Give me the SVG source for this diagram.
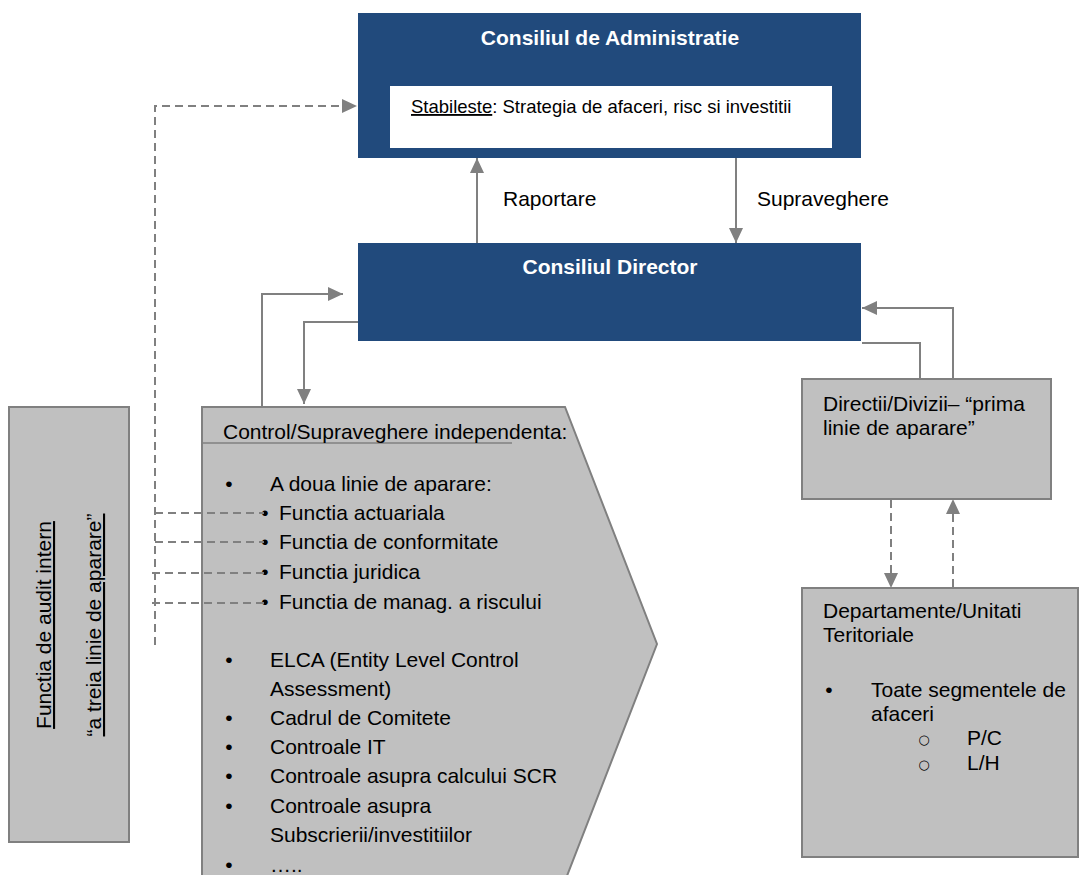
<svg xmlns="http://www.w3.org/2000/svg" width="1080" height="875" viewBox="0 0 1080 875">
<defs>
<style>
text{font-family:"Liberation Sans",Arial,sans-serif;font-size:21px;fill:#000}
.title{font-weight:bold;fill:#fff;text-anchor:middle}
.blue{fill:#214A7C}
.gray{fill:#C0C0C0;stroke:#808080;stroke-width:2}
.con{fill:none;stroke:#808080;stroke-width:2}
.dash{fill:none;stroke:#808080;stroke-width:2;stroke-dasharray:8 5}
.u{text-decoration:underline}
.b{text-anchor:middle}
.o{font-family:"DejaVu Sans",sans-serif;font-size:13px}
</style>
<marker id="ah" markerUnits="userSpaceOnUse" markerWidth="16" markerHeight="14" refX="15" refY="7" orient="auto">
<path d="M0,0 L15,7 L0,14 z" fill="#808080"/>
</marker>
</defs>
<rect width="1080" height="875" fill="#fff"/>

<g id="consiliul-administratie">
<rect class="blue" x="358" y="13" width="503" height="145"/>
<text class="title" x="610" y="45">Consiliul de Administratie</text>
<rect x="390" y="86" width="442" height="62" fill="#fff"/>
<text x="411" y="113" style="font-size:18.5px"><tspan class="u">Stabileste</tspan>: Strategia de afaceri, risc si investitii</text>
</g>

<g id="labels">
<text x="503" y="206">Raportare</text>
<text x="757" y="206">Supraveghere</text>
</g>

<g id="consiliul-director">
<rect class="blue" x="358" y="243" width="503" height="98"/>
<text class="title" x="610" y="274">Consiliul Director</text>
</g>

<g id="audit-intern">
<rect class="gray" x="9" y="407" width="120" height="435"/>
<text class="u b" transform="translate(51,625) rotate(-90)">Functia de audit intern</text>
<text class="u b" transform="translate(101,625) rotate(-90)">“a treia linie de aparare”</text>
</g>

<g id="control-supraveghere">
<polygon class="gray" points="202,407 565,407 657,644 565,881 202,881"/>
<line x1="202" y1="443" x2="512" y2="443" stroke="#808080" stroke-width="1.5"/>
<text x="223" y="439">Control/Supraveghere independenta:</text>
<text class="b" x="229" y="491">•</text><text x="270" y="491">A doua linie de aparare:</text>
<text class="b" x="265" y="520">•</text><text x="279" y="520">Functia actuariala</text>
<text class="b" x="265" y="549">•</text><text x="279" y="549">Functia de conformitate</text>
<text class="b" x="265" y="579">•</text><text x="279" y="579">Functia juridica</text>
<text class="b" x="265" y="609">•</text><text x="279" y="609">Functia de manag. a riscului</text>
<text class="b" x="229" y="667">•</text><text x="270" y="667">ELCA (Entity Level Control</text>
<text x="270" y="696">Assessment)</text>
<text class="b" x="229" y="725">•</text><text x="270" y="725">Cadrul de Comitete</text>
<text class="b" x="229" y="754">•</text><text x="270" y="754">Controale IT</text>
<text class="b" x="229" y="783">•</text><text x="270" y="783">Controale asupra calcului SCR</text>
<text class="b" x="229" y="813">•</text><text x="270" y="813">Controale asupra</text>
<text x="270" y="842">Subscrierii/investitiilor</text>
<text class="b" x="229" y="872">•</text><text x="270" y="872">…..</text>
</g>

<g id="directii">
<rect class="gray" x="802" y="379" width="249" height="120"/>
<text x="823" y="411">Directii/Divizii– “prima</text>
<text x="823" y="435">linie de aparare”</text>
</g>

<g id="departamente">
<rect class="gray" x="802" y="588" width="276" height="269"/>
<text x="823" y="618">Departamente/Unitati</text>
<text x="823" y="642">Teritoriale</text>
<text class="b" x="829" y="697">•</text><text x="871" y="697">Toate segmentele de</text>
<text x="871" y="721">afaceri</text>
<text class="o b" x="924" y="744">○</text><text x="967" y="745">P/C</text>
<text class="o b" x="924" y="769">○</text><text x="967" y="770">L/H</text>
</g>

<g id="connectors">
<line class="con" x1="477" y1="243" x2="477" y2="158" marker-end="url(#ah)"/>
<line class="con" x1="736" y1="158" x2="736" y2="243" marker-end="url(#ah)"/>
<polyline class="con" points="262,406 262,294 343,294" marker-end="url(#ah)"/>
<polyline class="con" points="358,322 304,322 304,404" marker-end="url(#ah)"/>
<polyline class="con" points="953,378 953,308 862,308" marker-end="url(#ah)"/>
<polyline class="con" points="920,378 920,343 862,343"/>
<line class="dash" x1="891" y1="500" x2="891" y2="588" marker-end="url(#ah)"/>
<line class="dash" x1="953" y1="587" x2="953" y2="499" marker-end="url(#ah)"/>
<polyline class="dash" points="155,645 155,106 357,106" marker-end="url(#ah)"/>
<line class="dash" x1="155" y1="513" x2="264" y2="513"/>
<line class="dash" x1="155" y1="542" x2="264" y2="542"/>
<line class="dash" x1="152" y1="573" x2="264" y2="573"/>
<line class="dash" x1="152" y1="603" x2="264" y2="603"/>
</g>
</svg>
